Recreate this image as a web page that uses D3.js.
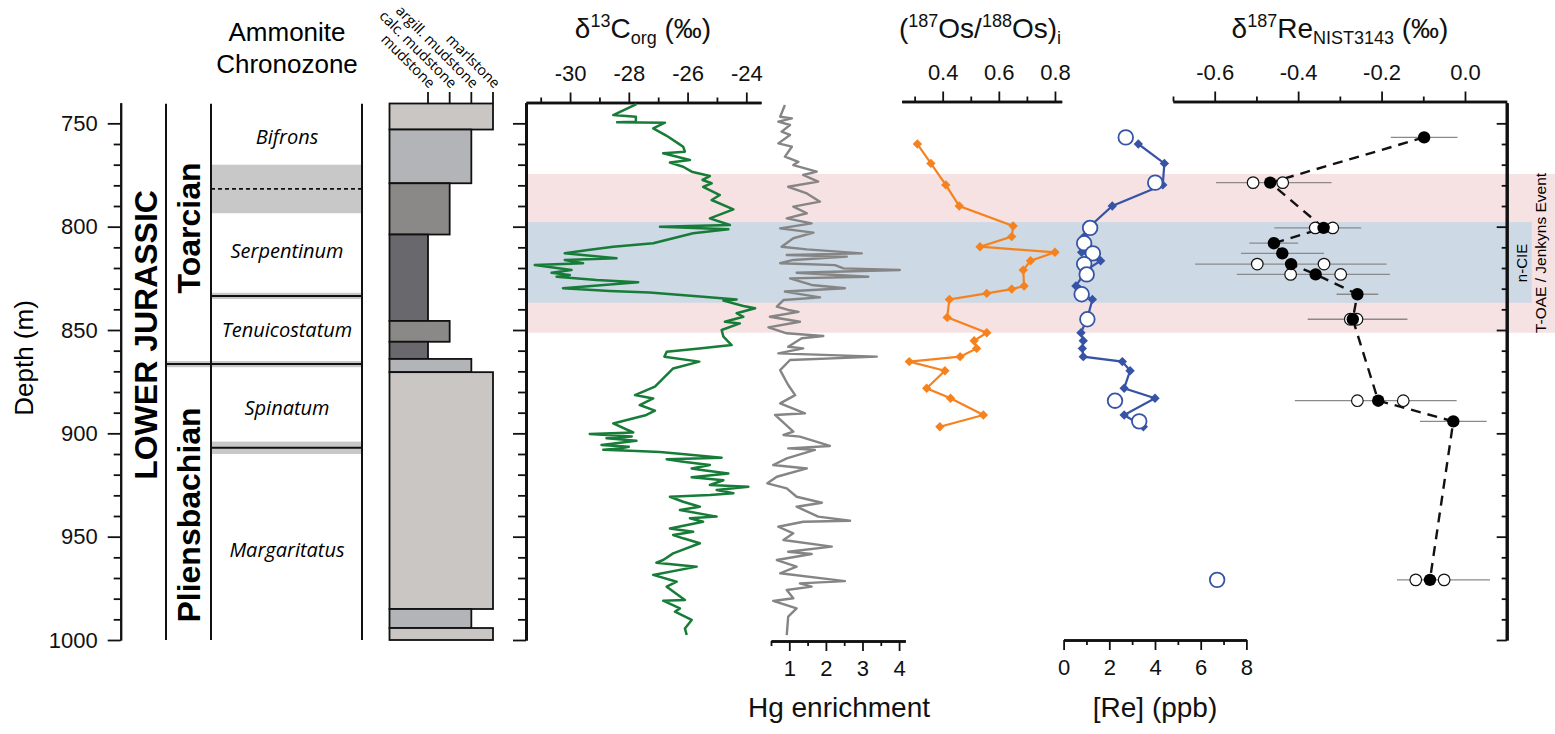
<!DOCTYPE html>
<html><head><meta charset="utf-8">
<script src="https://cdn.jsdelivr.net/npm/d3@7"></script>
<style>
body{margin:0;background:#fff;}
svg{display:block;font-family:"Liberation Sans",Arial,sans-serif;}
</style>
</head><body>
<svg id="c" width="1555" height="734"></svg>
<script>
// ---------------- DATA ----------------
const depthMajor = [750, 800, 850, 900, 950, 1000];
const depthMinor = d3.range(760, 1000, 10).filter(d => d % 50 !== 0);

const lithTypes = ['mudstone', 'calc. mudstone', 'argill. mudstone', 'marlstone'];
const lithTop  = [740.4, 753, 779, 803.8, 845.6, 855.7, 864, 870.4, 985, 994.2];
const lithBase = [753, 779, 803.8, 845.6, 855.7, 864, 870.4, 985, 994.2, 1000];
const lithType = ['marlstone','argill. mudstone','calc. mudstone','mudstone','calc. mudstone','mudstone','argill. mudstone','marlstone','argill. mudstone','marlstone'];

const zoneNames = ['Bifrons', 'Serpentinum', 'Tenuicostatum', 'Spinatum', 'Margaritatus'];
const zoneLabelDepth = [760, 815.2, 853.2, 891.1, 959.7];
const zoneBoundaryDepth = [781.7, 833.5, 866.5, 907];
const zoneBoundaryLo = [770, 832, 865, 904];
const zoneBoundaryHi = [793.5, 835, 868, 910];
const zoneBoundaryDashed = [true, false, false, false];
const zoneBoundaryIsStage = [false, false, true, false];

const stageNames = ['Toarcian', 'Pliensbachian'];
const stageLabelDepth = [800.6, 939.5];
const seriesName = 'LOWER JURASSIC';
const seriesLabelDepth = 852.4;

const toaeBand = [774.5, 851.3];
const ncieBand = [797.8, 836.8];

const c13Depth = [740.7,746.0,746.8,749.2,749.5,749.7,752.4,755.6,756.5,759.7,761.3,763.7,764.5,767.7,769.0,771.0,773.4,775.5,777.4,779.0,780.7,784.7,787.1,791.6,796.0,799.2,800.0,801.3,803.2,805.6,808.0,809.7,811.3,812.9,815.3,816.1,817.7,818.6,821.0,822.3,823.4,824.2,825.8,826.9,829.8,831.1,831.9,833.9,835.2,835.8,838.4,839.5,841.9,843.6,846.0,846.8,850.0,853.2,857.3,858.9,860.5,862.9,865.3,868.6,873.4,877.4,881.5,883.1,886.3,889.0,891.1,895.2,899.6,900.3,901.5,902.4,903.6,905.6,906.5,907.3,908.0,908.5,909.0,909.7,911.0,911.8,912.6,913.7,915.3,917.0,917.7,919.4,921.3,922.7,925.0,925.8,927.4,929.0,929.8,930.7,933.1,935.5,937.1,940.3,941.1,942.8,946.0,947.6,949.2,950.8,953.2,958.1,961.3,962.6,964.5,968.5,971.8,974.2,980.6,981.0,984.7,986.3,990.3,994.4,997.6];
const c13Value = [-27.74,-28.53,-27.76,-27.76,-28.40,-26.77,-27.17,-26.77,-26.66,-26.32,-26.15,-26.09,-26.83,-25.92,-26.60,-26.15,-25.86,-25.24,-25.49,-25.18,-25.47,-24.90,-25.18,-24.44,-25.24,-24.56,-26.94,-24.61,-25.81,-26.49,-27.17,-28.53,-29.39,-30.18,-28.42,-30.18,-29.56,-31.20,-29.95,-30.63,-30.01,-30.46,-29.10,-27.68,-30.24,-28.65,-27.29,-25.47,-24.33,-24.78,-24.10,-23.70,-24.33,-24.10,-24.73,-24.22,-24.84,-24.78,-24.50,-25.60,-26.71,-26.79,-25.60,-26.49,-26.83,-27.11,-27.79,-27.17,-27.63,-27.11,-27.40,-28.53,-27.85,-29.33,-27.90,-28.76,-27.74,-28.93,-28.00,-28.30,-28.87,-27.74,-26.94,-26.37,-25.47,-24.84,-26.71,-26.15,-25.24,-25.86,-25.52,-24.61,-25.86,-24.78,-25.24,-23.93,-25.01,-24.44,-25.24,-26.60,-26.15,-25.58,-26.26,-25.01,-25.92,-25.47,-26.60,-25.81,-26.49,-26.15,-25.58,-26.49,-26.83,-27.06,-25.69,-27.17,-26.37,-26.71,-26.09,-26.83,-26.26,-26.43,-25.86,-26.09,-26.03];

const hgDepth = [741.1,746.8,747.6,749.2,750.8,754.0,755.6,759.7,761.3,766.1,768.6,770.2,773.4,775.0,778.2,780.7,783.9,787.9,790.3,793.5,796.0,798.4,800.8,802.9,805.6,809.7,811.0,812.9,813.7,814.5,816.1,817.7,818.6,820.2,821.0,822.3,824.2,825.0,828.2,829.8,831.4,834.2,835.5,838.7,840.3,841.2,843.6,846.0,848.7,851.6,852.9,854.0,858.1,858.9,861.3,862.9,864.5,869.4,876.6,881.5,885.5,890.3,891.1,899.2,900.8,901.6,906.1,907.3,908.0,912.1,915.3,917.0,921.0,924.2,926.6,930.7,933.6,935.5,940.3,942.3,942.8,945.2,948.4,951.6,954.8,957.3,958.4,961.3,964.5,967.7,971.5,972.6,974.2,975.8,979.8,981.1,984.7,988.7,997.6];
const hgValue = [0.88,0.75,1.07,0.70,1.02,0.79,1.02,0.70,1.07,0.88,1.25,1.11,1.75,1.38,1.79,0.97,1.48,1.84,1.11,1.48,0.93,1.61,0.75,1.66,1.11,0.79,1.48,2.98,0.93,2.57,1.11,0.75,2.25,2.48,4.02,1.20,3.16,1.02,1.61,2.52,0.88,1.84,0.84,0.66,0.97,1.25,0.47,1.29,0.43,0.93,1.93,1.34,0.97,1.38,0.70,3.39,1.02,0.75,0.97,1.16,0.75,1.43,0.61,1.11,0.84,1.29,2.11,0.97,1.70,0.93,0.56,1.48,0.66,0.40,0.93,1.20,1.89,1.20,1.79,2.66,1.38,0.70,1.11,0.84,2.16,0.97,1.61,0.66,1.20,0.75,2.52,1.29,1.61,0.93,1.11,0.56,1.20,0.97,0.93];

const osDepth = [760,769.4,779.8,790,799.7,804.8,809.7,812.4,816.5,821,828.7,830.2,832.3,835.2,843.9,851.3,855.2,858.9,862.9,865.3,869.7,878.2,883,891.1,896.8];
const osValue = [0.310,0.358,0.411,0.459,0.651,0.646,0.533,0.800,0.713,0.687,0.690,0.646,0.557,0.424,0.416,0.557,0.512,0.521,0.462,0.281,0.408,0.343,0.428,0.545,0.390];
const reValue = [3.27,4.41,4.34,2.13,1.17,0.90,0.90,0.79,1.62,1.00,0.54,0.70,0.80,1.26,1.05,0.76,0.86,0.82,0.86,2.57,2.91,2.65,4.00,2.65,3.49];

const d187Depth = [756.8,778.7,800.6,808.0,812.9,818.1,823.1,832.7,844.8,884.2,894.2,970.9];
const d187Value = [-0.098,-0.467,-0.339,-0.458,-0.438,-0.417,-0.358,-0.258,-0.269,-0.208,-0.028,-0.084];
const d187ErrLo = [-0.178,-0.597,-0.457,-0.517,-0.537,-0.647,-0.547,-0.308,-0.377,-0.408,-0.108,-0.163];
const d187ErrHi = [-0.018,-0.320,-0.249,-0.400,-0.338,-0.188,-0.180,-0.208,-0.138,-0.020,0.052,0.060];
const d187RepA = [null,-0.508,-0.359,null,null,-0.498,-0.418,null,-0.275,-0.258,null,-0.118];
const d187RepB = [null,-0.437,-0.317,null,null,-0.338,-0.298,null,-0.259,-0.148,null,-0.050];
const reConcD187 = [2.72,4.01,1.16,0.90,1.28,0.90,1.01,0.79,1.04,2.25,3.31,6.72];

const c13Ticks = [-30,-28,-26,-24], c13Minor = [-31,-29,-27,-25];
const hgTicks = [1,2,3,4], hgMinor = [0.5,1.5,2.5,3.5];
const osTicks = [0.4,0.6,0.8], osMinor = [0.3,0.5,0.7];
const reTicks = [0,2,4,6,8], reMinor = [1,3,5,7];
const dTicks = [-0.6,-0.4,-0.2,0.0], dMinor = [-0.7,-0.5,-0.3,-0.1];

// ---------------- SCALES ----------------
const svg = d3.select('#c');
const FONT = '"Liberation Sans", Arial, sans-serif';
const y = d3.scaleLinear().domain([740, 1000]).range([102.67, 640]);
const xC = d3.scaleLinear().domain([-31.5, -23.5]).range([526, 761]);
const xHg = d3.scaleLinear().domain([0.5, 4.17]).range([771, 905.3]);
const xOs = d3.scaleLinear().domain([0.254, 0.824]).range([901.7, 1061.7]);
const xRe = d3.scaleLinear().domain([0, 8]).range([1063.6, 1246.4]);
const xD = d3.scaleLinear().domain([-0.7, 0.1]).range([1173, 1506.7]);
const xLith = d3.scalePoint().domain(lithTypes).range([428, 493]);
const lithColor = d3.scaleOrdinal().domain(lithTypes).range(['#69686c', '#8a8987', '#b3b4b8', '#c9c6c3']);

// ---------------- BANDS ----------------
svg.append('rect').attr('x', 527).attr('width', 1555 - 527)
  .attr('y', y(toaeBand[0])).attr('height', y(toaeBand[1]) - y(toaeBand[0])).attr('fill', '#f6e1e3');
svg.append('rect').attr('x', 527).attr('width', 1531.7 - 527)
  .attr('y', y(ncieBand[0])).attr('height', y(ncieBand[1]) - y(ncieBand[0])).attr('fill', '#cdd9e5');

// ---------------- STRATIGRAPHY ----------------
const colX = [166, 211, 362];
zoneBoundaryDepth.forEach((d, i) => {
  const x0 = zoneBoundaryIsStage[i] ? colX[0] : colX[1];
  svg.append('rect').attr('x', x0).attr('width', colX[2] - x0)
    .attr('y', y(zoneBoundaryLo[i])).attr('height', y(zoneBoundaryHi[i]) - y(zoneBoundaryLo[i]))
    .attr('fill', '#c8c8c8');
  svg.append('line').attr('x1', x0).attr('x2', colX[2]).attr('y1', y(d)).attr('y2', y(d))
    .attr('stroke', '#111').attr('stroke-width', zoneBoundaryDashed[i] ? 1.8 : 2)
    .attr('stroke-dasharray', zoneBoundaryDashed[i] ? '4,3' : null);
});
colX.forEach(x => {
  svg.append('line').attr('x1', x).attr('x2', x).attr('y1', y(740.5)).attr('y2', y(1000))
    .attr('stroke', '#111').attr('stroke-width', 2);
});
zoneNames.forEach((n, i) => {
  svg.append('text').attr('x', 287).attr('y', y(zoneLabelDepth[i])).attr('text-anchor', 'middle')
    .attr('font-family', '"Open Sans", "Noto Sans", sans-serif').attr('font-style', 'italic')
    .attr('font-size', 20).text(n);
});
stageNames.forEach((n, i) => {
  svg.append('text').attr('transform', `translate(200,${y(stageLabelDepth[i])}) rotate(-90)`)
    .attr('text-anchor', 'middle').attr('font-weight', 'bold').attr('font-size', 32).text(n);
});
svg.append('text').attr('transform', `translate(157,${y(seriesLabelDepth)}) rotate(-90)`)
  .attr('text-anchor', 'middle').attr('font-weight', 'bold').attr('font-size', 32).text(seriesName);

svg.append('text').attr('x', 287).attr('y', 41).attr('text-anchor', 'middle').attr('font-size', 26).text('Ammonite');
svg.append('text').attr('x', 287).attr('y', 73).attr('text-anchor', 'middle').attr('font-size', 26).text('Chronozone');
svg.append('text').attr('transform', `translate(33,358) rotate(-90)`).attr('text-anchor', 'middle')
  .attr('font-size', 26).text('Depth (m)');

// lithology
lithTop.forEach((t, i) => {
  svg.append('rect').attr('x', 389.5).attr('width', xLith(lithType[i]) - 389.5)
    .attr('y', y(t)).attr('height', y(lithBase[i]) - y(t))
    .attr('fill', lithColor(lithType[i])).attr('stroke', '#111').attr('stroke-width', 1.8);
});
lithTypes.forEach(t => {
  svg.append('line').attr('x1', xLith(t)).attr('x2', xLith(t)).attr('y1', 92).attr('y2', y(740.4))
    .attr('stroke', '#111').attr('stroke-width', 1.8);
  svg.append('text').attr('transform', `translate(${xLith(t) + 1},${89}) rotate(45)`)
    .attr('text-anchor', 'end').attr('font-family', '"Open Sans", "Noto Sans", sans-serif')
    .attr('font-size', 14.5).text(t);
});

// ---------------- AXES ----------------
function styleAxis(g, sw) {
  g.attr('font-family', FONT).attr('font-size', 22);
  g.select('.domain').attr('stroke', '#111').attr('stroke-width', sw);
  g.selectAll('.tick line').attr('stroke', '#111').attr('stroke-width', 1.8);
  g.selectAll('.tick text').attr('fill', '#111');
  return g;
}
function addAxis(gen, scale, tr, major, minor, fmt, big, small, pad, sw) {
  const g1 = svg.append('g').attr('transform', tr)
    .call(gen(scale).tickValues(minor).tickSize(small).tickSizeOuter(0).tickFormat(''));
  styleAxis(g1, sw);
  const g2 = svg.append('g').attr('transform', tr)
    .call(gen(scale).tickValues(major).tickSize(big).tickSizeOuter(0).tickPadding(pad)
      .tickFormat(fmt || ''));
  styleAxis(g2, sw);
}
addAxis(d3.axisLeft, y, 'translate(120.7,0)', depthMajor, depthMinor, d => String(d), 13, 7, 10, 2);
addAxis(d3.axisLeft, y, 'translate(526,0)', depthMajor, depthMinor, null, 13, 8, 4, 3);
addAxis(d3.axisLeft, y, 'translate(1506.7,0)', depthMajor, depthMinor, null, 10, 5, 4, 3);
addAxis(d3.axisTop, xC, 'translate(0,102.5)', c13Ticks, c13Minor, d => String(d), 10, 5, 12, 2.6);
addAxis(d3.axisTop, xOs, 'translate(0,101.5)', osTicks, osMinor, d => d.toFixed(1), 10, 5, 12, 2.6);
addAxis(d3.axisTop, xD, 'translate(0,101.5)', dTicks, dMinor, d => d.toFixed(1), 10, 5, 12, 2.6);
addAxis(d3.axisBottom, xHg, 'translate(0,641)', hgTicks, hgMinor, d => String(d), 10, 5, 9, 2.4);
addAxis(d3.axisBottom, xRe, 'translate(0,640)', reTicks, reMinor, d => String(d), 10, 5, 9, 2.4);

// ---------------- TITLES ----------------
function title(x, yy, parts) {
  const t = svg.append('text').attr('x', x).attr('y', yy).attr('text-anchor', 'middle')
    .attr('font-size', 28).attr('fill', '#111');
  let shift = 0;
  parts.forEach(([s, k]) => {
    const target = k === 'sup' ? -11 : (k === 'sub' ? 6 : 0);
    t.append('tspan').attr('dy', target - shift).attr('font-size', k === 'n' ? 28 : 18).text(s);
    shift = target;
  });
}
title(643, 38, [['δ', 'n'], ['13', 'sup'], ['C', 'n'], ['org', 'sub'], [' (‰)', 'n']]);
title(980, 38, [['(', 'n'], ['187', 'sup'], ['Os/', 'n'], ['188', 'sup'], ['Os)', 'n'], ['i', 'sub']]);
title(1340, 38, [['δ', 'n'], ['187', 'sup'], ['Re', 'n'], ['NIST3143', 'sub'], [' (‰)', 'n']]);
title(839, 717, [['Hg enrichment', 'n']]);
title(1155, 717, [['[Re] (ppb)', 'n']]);

svg.append('text').attr('transform', 'translate(1527,263) rotate(-90)').attr('text-anchor', 'middle')
  .attr('font-size', 15).text('n-CIE');
svg.append('text').attr('transform', 'translate(1546,253) rotate(-90)').attr('text-anchor', 'middle')
  .attr('font-size', 15.5).text('T-OAE / Jenkyns Event');

// ---------------- DATA MARKS ----------------
const lineC = d3.line().x(d => xC(c13Value[d])).y(d => y(c13Depth[d]));
svg.append('path').attr('d', lineC(d3.range(c13Depth.length))).attr('fill', 'none')
  .attr('stroke', '#177c37').attr('stroke-width', 2.5).attr('stroke-linejoin', 'round');

const lineHg = d3.line().x(d => xHg(hgValue[d])).y(d => y(hgDepth[d]));
svg.append('path').attr('d', lineHg(d3.range(hgDepth.length))).attr('fill', 'none')
  .attr('stroke', '#858585').attr('stroke-width', 2.4).attr('stroke-linejoin', 'round');

const diamond = d3.symbol(d3.symbolSquare, 44);
const lineOs = d3.line().x(d => xOs(osValue[d])).y(d => y(osDepth[d]));
svg.append('path').attr('d', lineOs(d3.range(osDepth.length))).attr('fill', 'none')
  .attr('stroke', '#f5821f').attr('stroke-width', 2.2);
osDepth.forEach((d, i) => {
  svg.append('path').attr('d', diamond())
    .attr('transform', `translate(${xOs(osValue[i])},${y(d)}) rotate(45)`).attr('fill', '#f5821f');
});

const lineRe = d3.line().x(d => xRe(reValue[d])).y(d => y(osDepth[d]));
svg.append('path').attr('d', lineRe(d3.range(osDepth.length))).attr('fill', 'none')
  .attr('stroke', '#3753a6').attr('stroke-width', 2.2);
osDepth.forEach((d, i) => {
  svg.append('path').attr('d', diamond())
    .attr('transform', `translate(${xRe(reValue[i])},${y(d)}) rotate(45)`).attr('fill', '#3753a6');
});
d187Depth.forEach((d, i) => {
  svg.append('circle').attr('cx', xRe(reConcD187[i])).attr('cy', y(d)).attr('r', 7.3)
    .attr('fill', '#fff').attr('stroke', '#3753a6').attr('stroke-width', 1.8);
});

// delta 187 Re
d187Depth.forEach((d, i) => {
  svg.append('line').attr('x1', xD(d187ErrLo[i])).attr('x2', xD(d187ErrHi[i]))
    .attr('y1', y(d)).attr('y2', y(d)).attr('stroke', '#8a8a8a').attr('stroke-width', 1.3);
});
const lineD = d3.line().x(d => xD(d187Value[d])).y(d => y(d187Depth[d]));
svg.append('path').attr('d', lineD(d3.range(d187Depth.length))).attr('fill', 'none')
  .attr('stroke', '#111').attr('stroke-width', 2.4).attr('stroke-dasharray', '10,7');
d187Depth.forEach((d, i) => {
  [d187RepA[i], d187RepB[i]].forEach(v => {
    if (v === null) return;
    svg.append('circle').attr('cx', xD(v)).attr('cy', y(d)).attr('r', 5.8)
      .attr('fill', '#fff').attr('stroke', '#111').attr('stroke-width', 1.2);
  });
});
d187Depth.forEach((d, i) => {
  svg.append('circle').attr('cx', xD(d187Value[i])).attr('cy', y(d)).attr('r', 6.2).attr('fill', '#000');
});
</script>
</body></html>
